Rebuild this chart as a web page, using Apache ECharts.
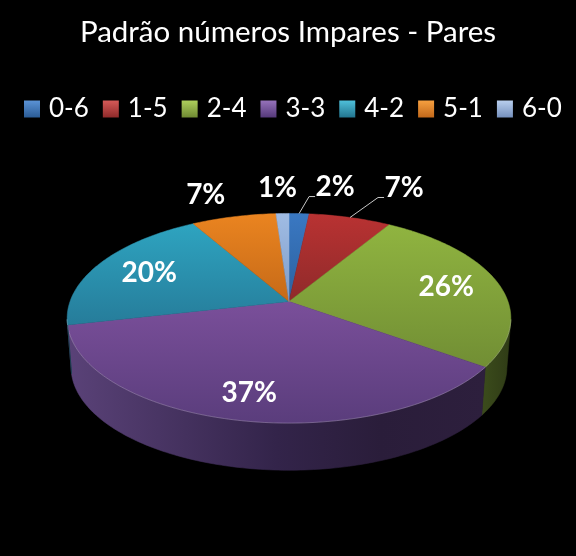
<!DOCTYPE html>
<html><head><meta charset="utf-8">
<style>html,body{margin:0;padding:0;background:#000}#c{width:576px;height:556px}</style>
<script src="https://cdn.jsdelivr.net/npm/echarts@6/dist/echarts.min.js"></script>
</head><body><div id="c"></div>
<script>
const titleText = 'Padrão números Impares - Pares';
const categories = ['0-6','1-5','2-4','3-3','4-2','5-1','6-0'];
const shares = [1.7, 7.0, 26.2, 36.55, 20.25, 7.2, 1.1];

// styling
const faceTop = ['#3a78c2','#b93232','#90b440','#7a4f9a','#2ea4c0','#ea8420','#a0bce4'];
const faceBot = ['#2c619f','#8f2a2a','#718e34','#5a3d7c','#267c9a','#c66a18','#7f9cc8'];
const legendTop = ['#5b93d6','#d65a58','#aed05c','#9672bb','#4fc0da','#f6a040','#b9cfee'];
const legendBot = ['#2b5c96','#8f2a2a','#6f8a32','#55397a','#22758f','#c2681a','#7590bd'];
const sideStops = [
  [[0,'#24466f'],[1,'#1c3758']],
  [[0,'#5a1a1a'],[1,'#481515']],
  [[0,'#3a4a1b'],[1,'#2f3b16']],
  [[0,'#5a4278'],[0.5,'#33244a'],[0.75,'#2a1d3a'],[1,'#2d1f3d']],
  [[0,'#1a4f60'],[1,'#153f4d']],
  [[0,'#7a4310'],[1,'#60340c']],
  [[0,'#566a8a'],[1,'#465873']]
];
// label placement: inside labels use a radial fraction, outside ones an offset from the rim
const labelPlace = [
  {dx:36,dy:-27,leader:true},{dx:54,dy:-30,leader:true},{r:0.75},{r:0.8},{r:0.73},{dx:-28,dy:-22},{dx:-5,dy:-26}
];
// perspective disc
const cx=289, apexY=301.5, kP=-0.16, aP=53.9, cP=219;
const baseShrink=0.982, rimCy=318, baseCy=367;
const TAU=Math.PI*2;
const total=shares.reduce((s,v)=>s+v,0);
const cum=[0]; shares.forEach(v=>cum.push(cum[cum.length-1]+v));
const ang=f=>f/total*TAU;
function proj(t,r){ const u=Math.sin(t)*r, v=-Math.cos(t)*r, d=1+kP*v;
  return [cx+cP*u/d,(aP*v+apexY)/d]; }
function lower(p){ return [cx+(p[0]-cx)*baseShrink, baseCy+(p[1]-rimCy)*baseShrink]; }
function arc(a,b){ const n=Math.max(2,Math.ceil((b-a)/(Math.PI/180))),o=[];
  for(let i=0;i<=n;i++) o.push(a+(b-a)*i/n); return o; }
const grad=(y0,y1,c0,c1)=>({type:'linear',global:true,x:0,y:y0,x2:0,y2:y1,colorStops:[{offset:0,color:c0},{offset:1,color:c1}]});

function renderSlice(i,val){
  const a=ang(cum[i]), b=ang(cum[i+1]);
  const ts=arc(a,b);
  const rim=ts.map(t=>proj(t,1));
  const kids=[];
  // side wall (front facing arc only)
  const front=ts.filter(t=>-Math.cos(t)>=-kP);
  if(front.length>1){
    const up=front.map(t=>proj(t,1));
    const lo=up.map(lower).reverse();
    const xs=up.map(p=>p[0]);
    const fill={type:'linear',global:true,x:Math.min(...xs),y:0,x2:Math.max(...xs),y2:0,
      colorStops:sideStops[i].map(s=>({offset:s[0],color:s[1]}))};
    kids.push({type:'polygon',shape:{points:up.concat(lo)},style:{fill:fill,stroke:fill,lineWidth:0.6}});
  }
  // top face
  const ys=rim.map(p=>p[1]).concat([apexY]);
  const gf=grad(Math.min(...ys),Math.max(...ys),faceTop[i],faceBot[i]);
  kids.push({type:'polygon',shape:{points:[[cx,apexY]].concat(rim)},style:{fill:gf,stroke:gf,lineWidth:0.5}});
  if(front.length>1){
    kids.push({type:'polyline',shape:{points:front.map(t=>proj(t,1))},style:{fill:null,stroke:'rgba(255,255,255,0.22)',lineWidth:1}});
  }
  // label
  const mid=(a+b)/2, pl=labelPlace[i];
  let lx,ly;
  if(pl.r){ [lx,ly]=proj(mid,pl.r); }
  else {
    const p=proj(mid,1); lx=p[0]+pl.dx; ly=p[1]+pl.dy;
    if(pl.leader){
      kids.push({type:'polyline',shape:{points:[p,[lx-26,ly+10],[lx-20,ly+10]]},style:{fill:null,stroke:'#c8c8c8',lineWidth:1}});
    }
  }
  kids.push({type:'text',z2:50,style:{text:Math.round(val/total*100)+'%',x:lx,y:ly,fill:'#fff',
    font:'bold 28px Lato',align:'center',verticalAlign:'middle'}});
  return {type:'group',children:kids};
}

const chart=echarts.init(document.getElementById('c'),null,{renderer:'canvas'});
chart.setOption({
  backgroundColor:'#000',
  animation:false,
  title:{text:titleText,left:'center',top:12,textStyle:{color:'#fff',fontFamily:'Lato',fontWeight:'normal',fontSize:29.5}},
  legend:{left:19,top:91,width:557,itemWidth:16,itemHeight:17,itemGap:14,icon:'rect',selectedMode:false,
    textStyle:{color:'#fff',fontFamily:'Lato',fontSize:26,padding:[0,0,0,4]},
    data:categories.map((n,i)=>({name:n,itemStyle:{color:{type:'linear',x:0,y:0,x2:0,y2:1,
      colorStops:[{offset:0,color:legendTop[i]},{offset:1,color:legendBot[i]}]}}}))
  },
  series:categories.map((n,i)=>({
    type:'custom',name:n,coordinateSystem:'none',silent:true,
    itemStyle:{color:faceTop[i]},
    data:[[shares[i]]],
    renderItem:(params,api)=>renderSlice(i,api.value(0))
  }))
});
</script></body></html>
